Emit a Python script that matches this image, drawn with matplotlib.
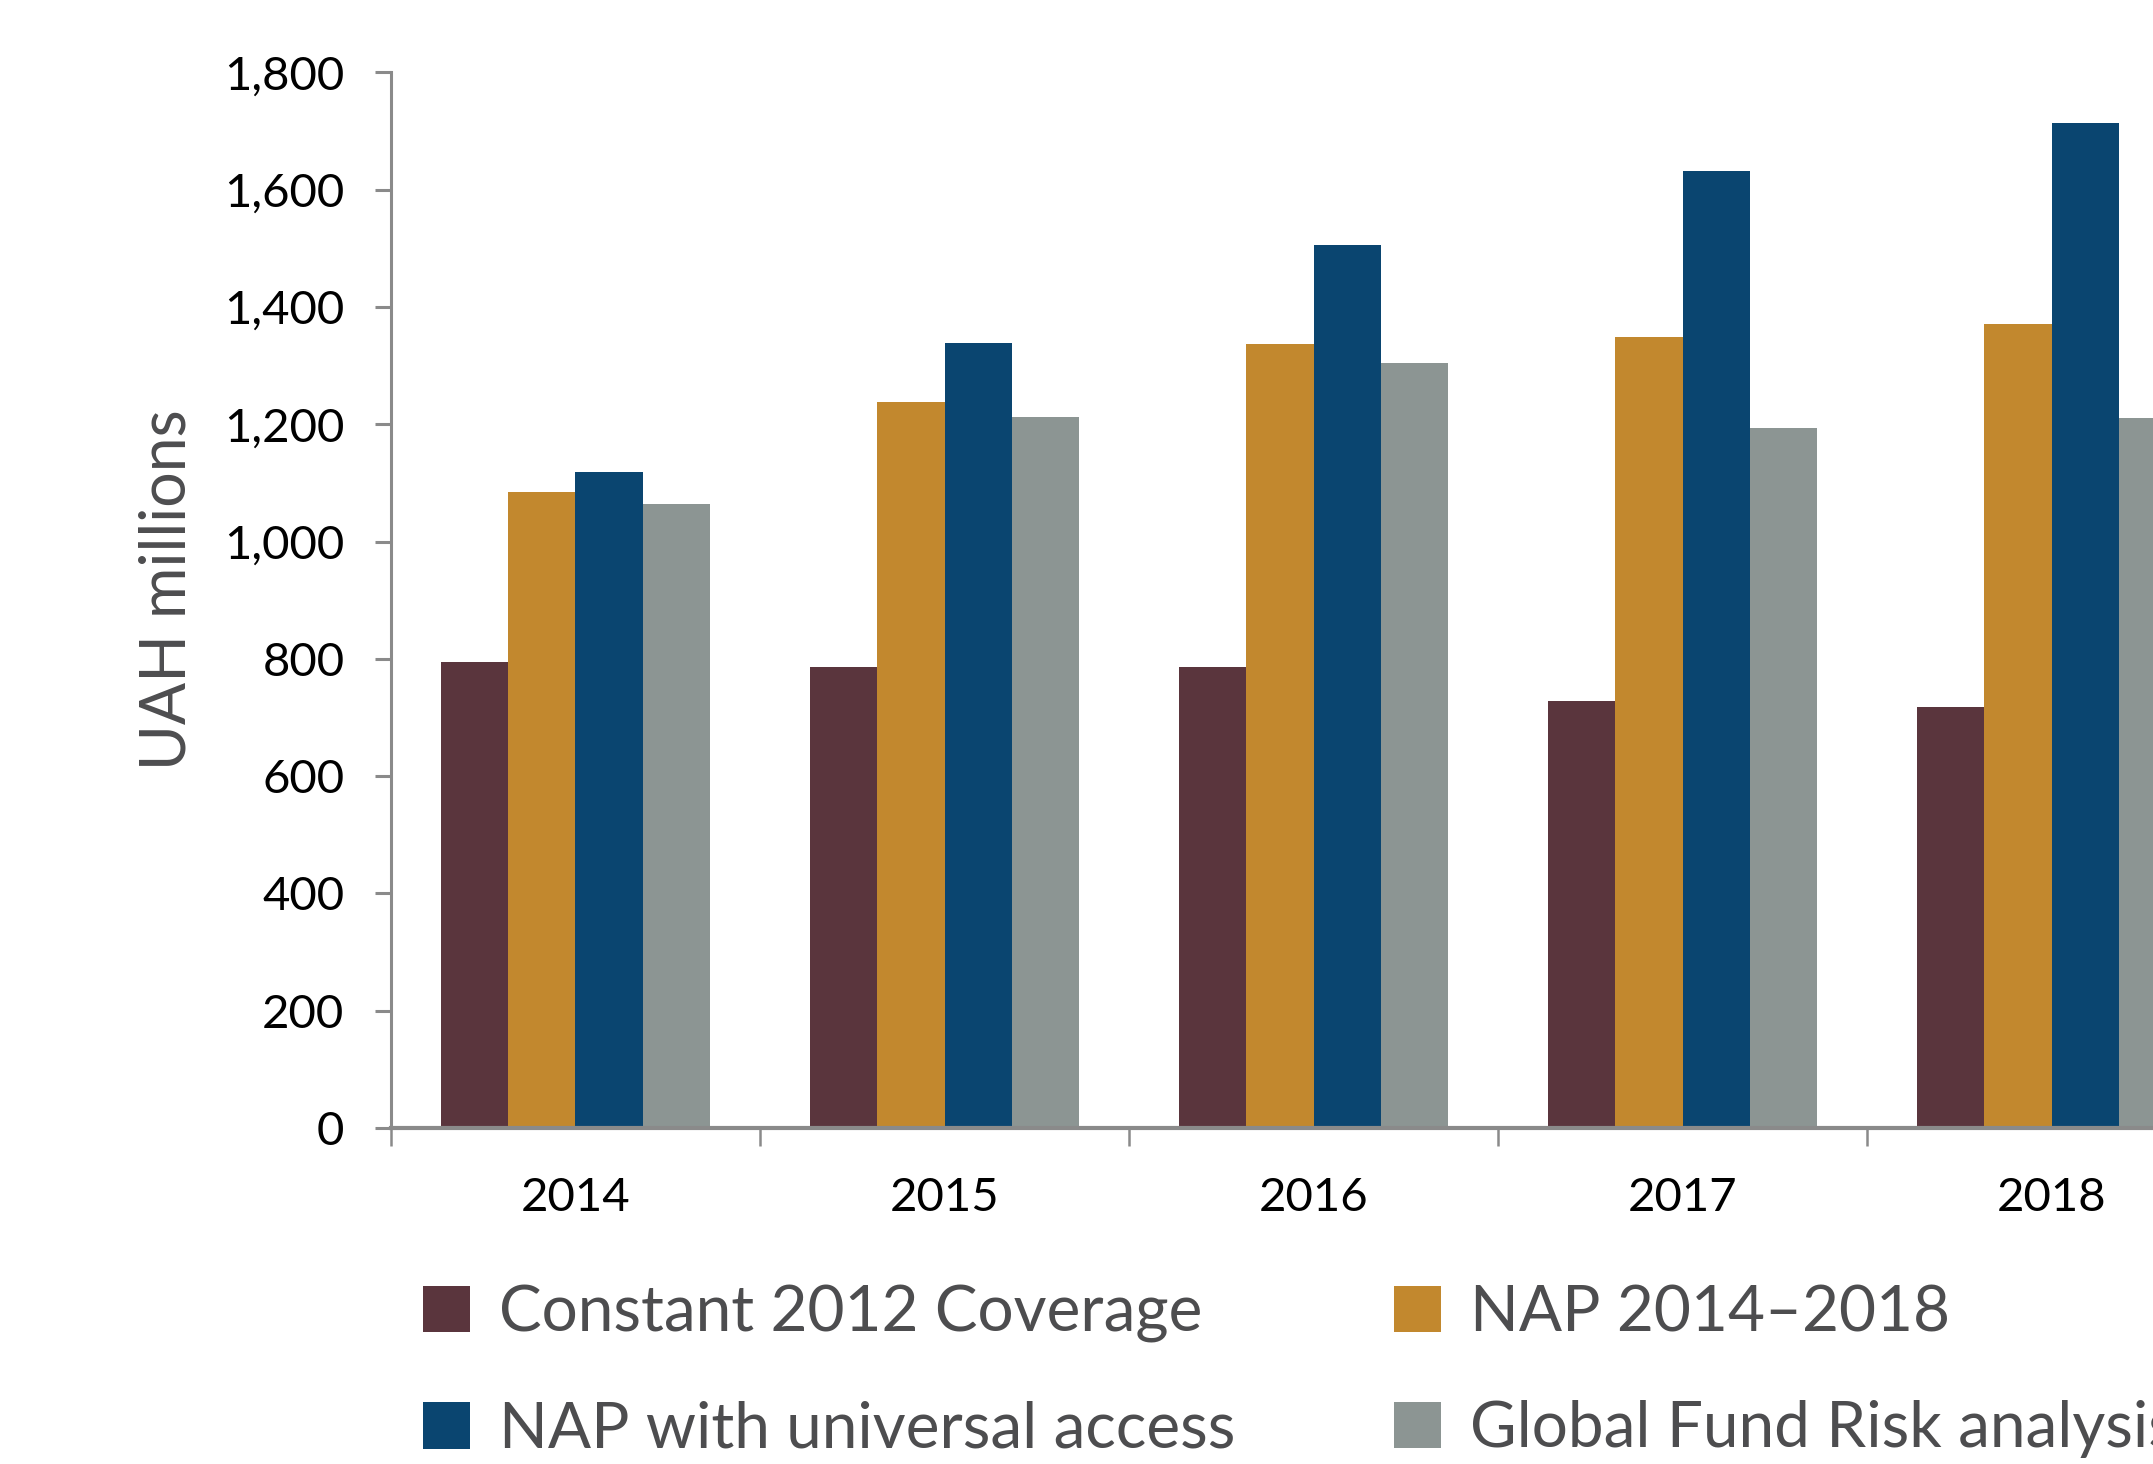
import numpy as np
import matplotlib
matplotlib.use("Agg")
import matplotlib.pyplot as plt
from matplotlib.ticker import FuncFormatter, MultipleLocator

years = ["2014", "2015", "2016", "2017", "2018"]
series_names = ["Constant 2012 Coverage", "NAP 2014\u20132018",
                "NAP with universal access", "Global Fund Risk analysis"]
constant_2012 = [794, 786, 786, 728, 718]
nap_2014_2018 = [1085, 1238, 1337, 1349, 1371]
nap_universal = [1118, 1339, 1505, 1632, 1713]
global_fund = [1064, 1212, 1304, 1194, 1211]
colors = ["#5a353d", "#c2882e", "#0a4570", "#8c9593"]

plt.rcParams['font.family'] = ['Lato', 'DejaVu Sans']

fig = plt.figure(figsize=(21.53, 14.64), dpi=100)
# axes runs past the right edge, like the cropped original
ax = fig.add_axes([0.1816, 0.2295, 0.857, 0.721])

x = np.arange(len(years))
w = 0.182
values = [constant_2012, nap_2014_2018, nap_universal, global_fund]
rects = []
for i, vals in enumerate(values):
    r = ax.bar(x + (i - 1.5) * w, vals, width=w, color=colors[i], linewidth=0)
    rects.append(r)

ax.set_xlim(-0.5, len(years) - 0.5)
ax.set_ylim(0, 1800)

# spines
for s in ["top", "right"]:
    ax.spines[s].set_visible(False)
ax.spines["left"].set_color("#8a8a8a")
ax.spines["left"].set_linewidth(2.2)
ax.spines["bottom"].set_color("#8a8a8a")
ax.spines["bottom"].set_linewidth(3)

# y axis
ax.yaxis.set_major_locator(MultipleLocator(200))
ax.yaxis.set_major_formatter(FuncFormatter(lambda v, p: "{:,.0f}".format(v)))
ax.tick_params(axis="y", direction="out", length=11.5, width=2.2, color="#8a8a8a",
               labelsize=34, pad=22, labelcolor="black")

# x axis: labels at centres, tick marks between groups
ax.set_xticks(x)
ax.set_xticklabels(years)
ax.set_xticks(np.arange(len(years)) - 0.5, minor=True)
ax.tick_params(axis="x", which="major", length=0, labelsize=34, pad=35, labelcolor="black")
ax.tick_params(axis="x", which="minor", direction="out", length=13, width=1.8, color="#8a8a8a")

ax.set_ylabel("UAH millions", fontsize=45, color="#4d4d4f", va="center")
ax.yaxis.set_label_coords(-0.121, 0.51)

# legend, two columns filled row by row
order = [0, 2, 1, 3]
fig.legend([rects[i][0] for i in order], [series_names[i] for i in order],
           loc="upper left", bbox_to_anchor=(0.1965, 0.1228), ncol=2, frameon=False,
           fontsize=46, labelcolor="#4d4d4f", borderpad=0, borderaxespad=0,
           handlelength=0.735, handleheight=0.735, handletextpad=0.45,
           columnspacing=2.49, labelspacing=0.91)

plt.savefig("out.png", dpi=100)
